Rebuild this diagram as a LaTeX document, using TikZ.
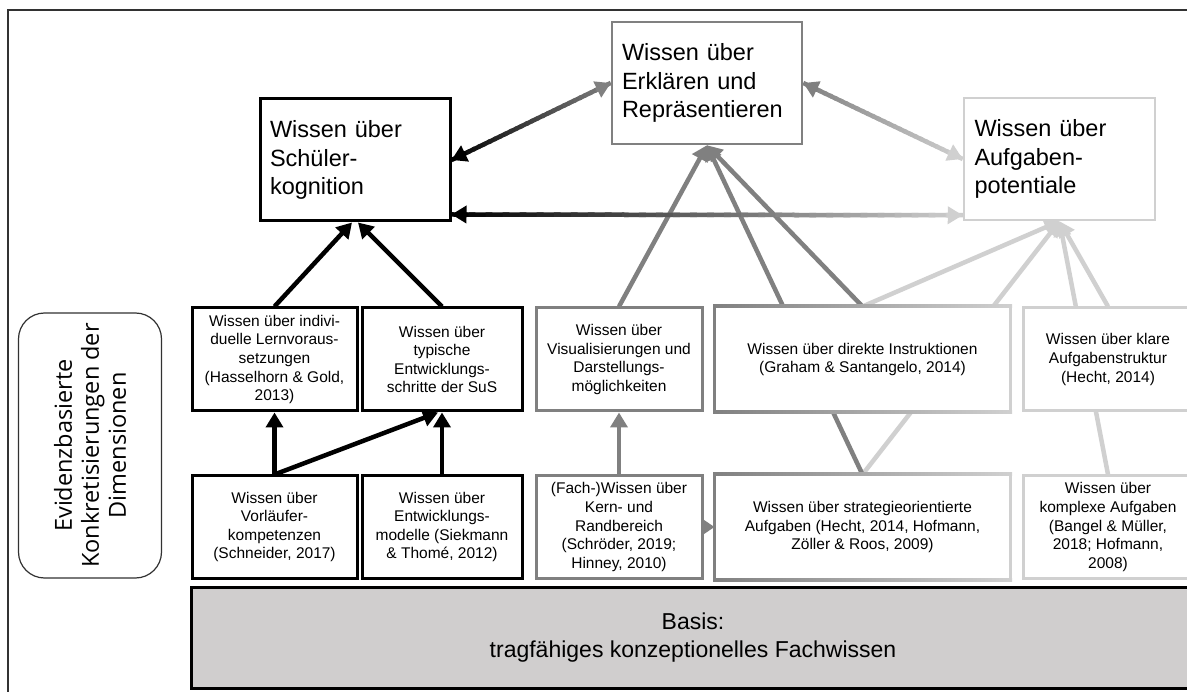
\documentclass[tikz,border=0pt]{standalone}
\usepackage{fontspec}
\setmainfont{Liberation Sans}
\newfontfamily\sidefont{Open Sans}
\usetikzlibrary{arrows.meta,calc,backgrounds}
\definecolor{cgray}{RGB}{128,128,128}
\definecolor{clight}{RGB}{208,208,208}
\definecolor{cbasis}{RGB}{208,206,206}
\definecolor{cframe}{RGB}{50,50,50}
% gradient line: #1 start, #2 end, #3 start colour, #4 end colour, #5 width
\newcommand\gradline[5]{%
  \foreach \gi in {0,...,29}{%
    \pgfmathsetmacro\gpa{\gi/30}%
    \pgfmathsetmacro\gpb{min(1,(\gi+1.4)/30)}%
    \pgfmathsetmacro\gpc{100*(1-(\gi+0.5)/30)}%
    \draw[line width=#5,color=#3!\gpc!#4] ($#1!\gpa!#2$) -- ($#1!\gpb!#2$);
  }%
}
\tikzset{
  topbox/.style={draw,line width=2.5,fill=white,minimum height=122,text width=170,
    align=left,inner xsep=10,inner ysep=0,font=\fontsize{23.5}{28.5}\selectfont},
  rowbox/.style={draw,line width=3,fill=white,inner sep=0,align=center,
    font=\fontsize{15.5}{18.6}\selectfont},
  arr/.style={-{Triangle[length=15pt,width=17pt]},line width=4.5},
  smallarr/.style={-{Triangle[length=11pt,width=14pt]},line width=4},
}
\begin{document}
\begin{tikzpicture}[x=1pt,y=-1pt]
\useasboundingbox (0,0) rectangle (1187,692);

% top boxes
\node[topbox,line width=3,minimum width=190] (S) at (355,160) {Wissen über\\Schüler-\\kognition};
\node[topbox,draw=cgray,minimum width=190] (E) at (707,83) {Wissen über\\Erklären und\\Repräsentieren};
\node[topbox,draw=clight,minimum width=191] (A) at (1059.5,159) {Wissen über\\Aufgaben-\\potentiale};

% middle row
\node[rowbox,minimum width=165,minimum height=103] (B1) at (274.5,359.5) {Wissen über indivi-\\duelle Lernvoraus-\\setzungen\\(Hasselhorn \& Gold,\\2013)};
\node[rowbox,minimum width=160,minimum height=103] (B2) at (442,359.5) {Wissen über\\typische\\Entwicklungs-\\schritte der SuS};
\node[rowbox,draw=cgray,minimum width=166,minimum height=103] (B3) at (619,359.5) {Wissen über\\Visualisierungen und\\Darstellungs-\\möglichkeiten};
\node[rowbox,draw=none,minimum width=293,minimum height=103] (B4) at (862.5,359.5) {Wissen über direkte Instruktionen\\(Graham \& Santangelo, 2014)};
\node[rowbox,draw=clight,minimum width=170,minimum height=103] (B5) at (1108,359.5) {Wissen über klare\\Aufgabenstruktur\\(Hecht, 2014)};

% bottom row
\node[rowbox,minimum width=165,minimum height=102] (C1) at (274.5,527) {Wissen über\\Vorläufer-\\kompetenzen\\(Schneider, 2017)};
\node[rowbox,minimum width=160,minimum height=102] (C2) at (442,527) {Wissen über\\Entwicklungs-\\modelle (Siekmann\\\& Thomé, 2012)};
\node[rowbox,draw=cgray,minimum width=166,minimum height=102] (C3) at (619,527) {(Fach-)Wissen über\\Kern- und\\Randbereich\\(Schröder, 2019;\\Hinney, 2010)};
\node[rowbox,draw=none,minimum width=293,minimum height=102] (C4) at (862.5,527) {Wissen über strategieorientierte\\Aufgaben (Hecht, 2014, Hofmann,\\Zöller \& Roos, 2009)};
\node[rowbox,draw=clight,minimum width=170,minimum height=102] (C5) at (1108,527) {Wissen über\\komplexe Aufgaben\\(Bangel \& Müller,\\2018; Hofmann,\\2008)};

% gradient borders of B4 and C4
\foreach \n in {B4,C4}{
  \fill[cgray] ($(\n.north west)+(-1.5,-1.5)$) rectangle ($(\n.south west)+(1.5,1.5)$);
  \fill[clight] ($(\n.north east)+(-1.5,-1.5)$) rectangle ($(\n.south east)+(1.5,1.5)$);
  \shade[left color=cgray,right color=clight] ($(\n.north west)+(-1.5,-1.5)$) rectangle ($(\n.north east)+(1.5,1.5)$);
  \shade[left color=cgray,right color=clight] ($(\n.south west)+(-1.5,-1.5)$) rectangle ($(\n.south east)+(1.5,1.5)$);
}

% basis
\node[draw,line width=3,fill=cbasis,minimum width=1004,minimum height=101,inner sep=0,
  align=center,font=\fontsize{23}{28}\selectfont] (BAS) at (693,637.5) {Basis:\\tragfähiges konzeptionelles Fachwissen};

% side label
\node[draw=cframe,line width=1.2,rounded corners=26,minimum width=143,minimum height=265,inner sep=0] (SIDE) at (90,445.5) {};
\node[rotate=90,align=center,font=\sidefont\fontsize{23.5}{27}\selectfont] (SIDET) at (SIDE.center) {Evidenzbasierte\\Konkretisierungen der\\Dimensionen};

% row arrows
\draw[arr,black] (C1.north) -- (B1.south);
\draw[arr,black] (C1.north) -- ($(B2.south)+(-4,0)$);
\draw[arr,black] (C2.north) -- (B2.south);
\draw[arr,cgray] (C3.north) -- (B3.south);
\draw[smallarr,cgray] (C3.east) -- (C4.west);

\begin{pgfonlayer}{background}
  \fill[white] (0,0) rectangle (1187,692);
  \draw[line width=1.5,cframe] (8,692) -- (8,10) -- (1187,10);
  % light lines to A
  \draw[arr,clight] (B4.north) -- (A.south);
  \draw[arr,clight] (C4.north) -- (A.south);
  \draw[arr,clight] (C5.north) -- (A.south);
  \draw[arr,clight] (B5.north) -- (A.south);
  % gray lines to E
  \draw[arr,cgray] (B3.north) -- (E.south);
  \draw[arr,cgray] (C4.north) -- (E.south);
  \draw[arr,cgray] (B4.north) -- (E.south);
  % black arrows to S
  \draw[arr,black] (B1.north) -- ($(S.south)+(-3,0)$);
  \draw[arr,black] (B2.north) -- ($(S.south)+(3,0)$);
  % double arrows with gradient
  \coordinate (SE1) at ($(S.south east)+(0,-8)$);
  \coordinate (AE1) at ($(A.south west)+(0,-6)$);
  \gradline{(SE1)}{(AE1)}{black}{clight}{4.5}
  \draw[arr,black] ($(SE1)!16pt!(AE1)$) -- (SE1);
  \draw[arr,clight] ($(AE1)!16pt!(SE1)$) -- (AE1);
  \gradline{(S.east)}{(E.west)}{black}{cgray}{4.5}
  \draw[arr,black] ($(S.east)!16pt!(E.west)$) -- (S.east);
  \draw[arr,cgray] ($(E.west)!16pt!(S.east)$) -- (E.west);
  \gradline{(E.east)}{(A.west)}{cgray}{clight}{4.5}
  \draw[arr,cgray] ($(E.east)!16pt!(A.west)$) -- (E.east);
  \draw[arr,clight] ($(A.west)!16pt!(E.east)$) -- (A.west);
\end{pgfonlayer}
\end{tikzpicture}
\end{document}
